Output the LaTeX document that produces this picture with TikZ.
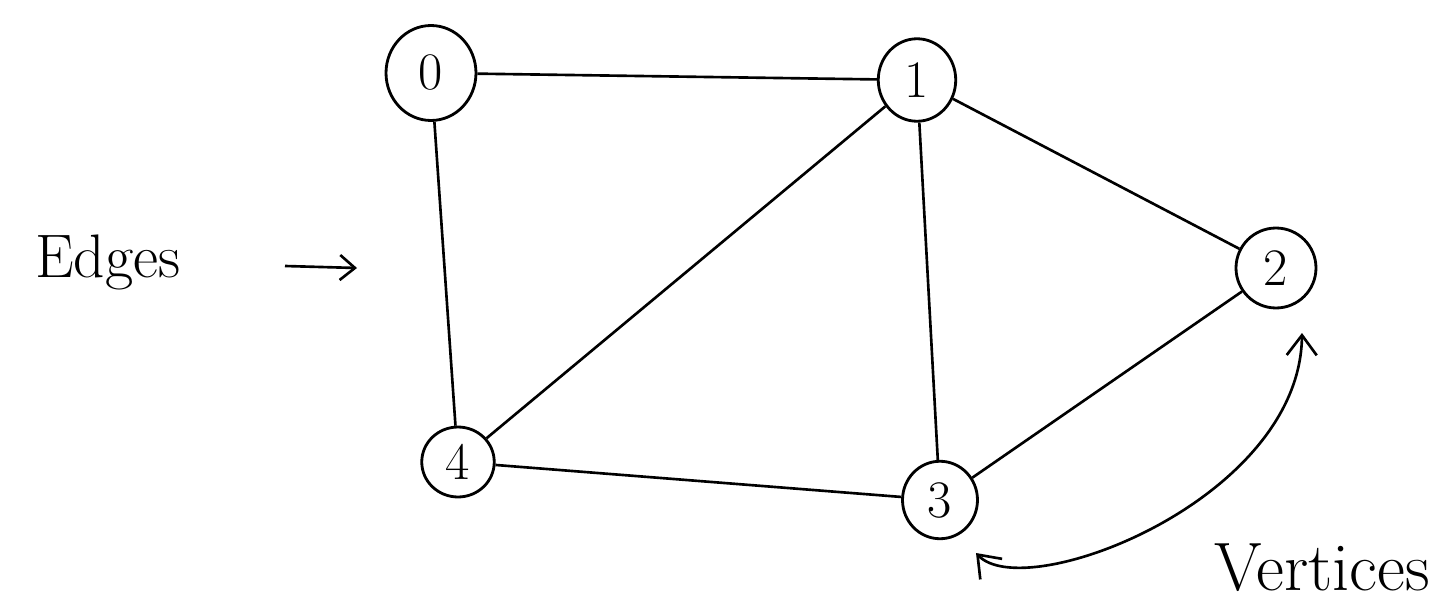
\documentclass[tikz,border=0pt]{standalone}
\usetikzlibrary{arrows.meta,shapes.geometric}
\begin{document}
\begin{tikzpicture}[
  x=0.02cm, y=-0.02cm,
  vtx/.style={draw, ellipse, line width=1.6pt, inner sep=0pt,
              font=\fontsize{30}{30}\selectfont},
  edg/.style={line width=1.5pt, black},
  lbl/.style={font=\fontsize{35}{35}\selectfont},
  arr/.style={line width=1.5pt, {Straight Barb[length=4mm,width=6mm]}-{Straight Barb[length=4mm,width=6mm]}}
]
\useasboundingbox (0,0) rectangle (1445,605);
\fill[white] (0,0) rectangle (1445,605);
% vertices
\node[vtx, minimum width=1.8cm, minimum height=1.9cm] (n0) at (431,73) {0};
\node[vtx, minimum width=1.55cm, minimum height=1.65cm] (n1) at (917,80) {1};
\node[vtx, minimum width=1.6cm, minimum height=1.6cm] (n2) at (1276,268) {2};
\node[vtx, minimum width=1.5cm, minimum height=1.55cm] (n3) at (940,500) {3};
\node[vtx, minimum width=1.45cm, minimum height=1.4cm] (n4) at (458,462) {4};
% edges
\foreach \a/\b in {n0/n1, n0/n4, n1/n4, n1/n3, n1/n2, n2/n3, n4/n3}
  \draw[edg] (\a) -- (\b);
% labels
\node[lbl] (edges) at (108,262) {Edges};
\coordinate (etail) at (285,266);
\coordinate (etip) at (357,268);
\draw[edg, -{Straight Barb[length=3mm,width=5mm]}] (etail) -- (etip);
\node[lbl, font=\fontsize{39}{39}\selectfont] (verts) at (1322,568) {Vertices};
\coordinate (v3) at (976,553);
\coordinate (v2) at (1302,333);
\draw[arr] (v3) .. controls (1025,605) and (1300,500) .. (v2);
\end{tikzpicture}
\end{document}
